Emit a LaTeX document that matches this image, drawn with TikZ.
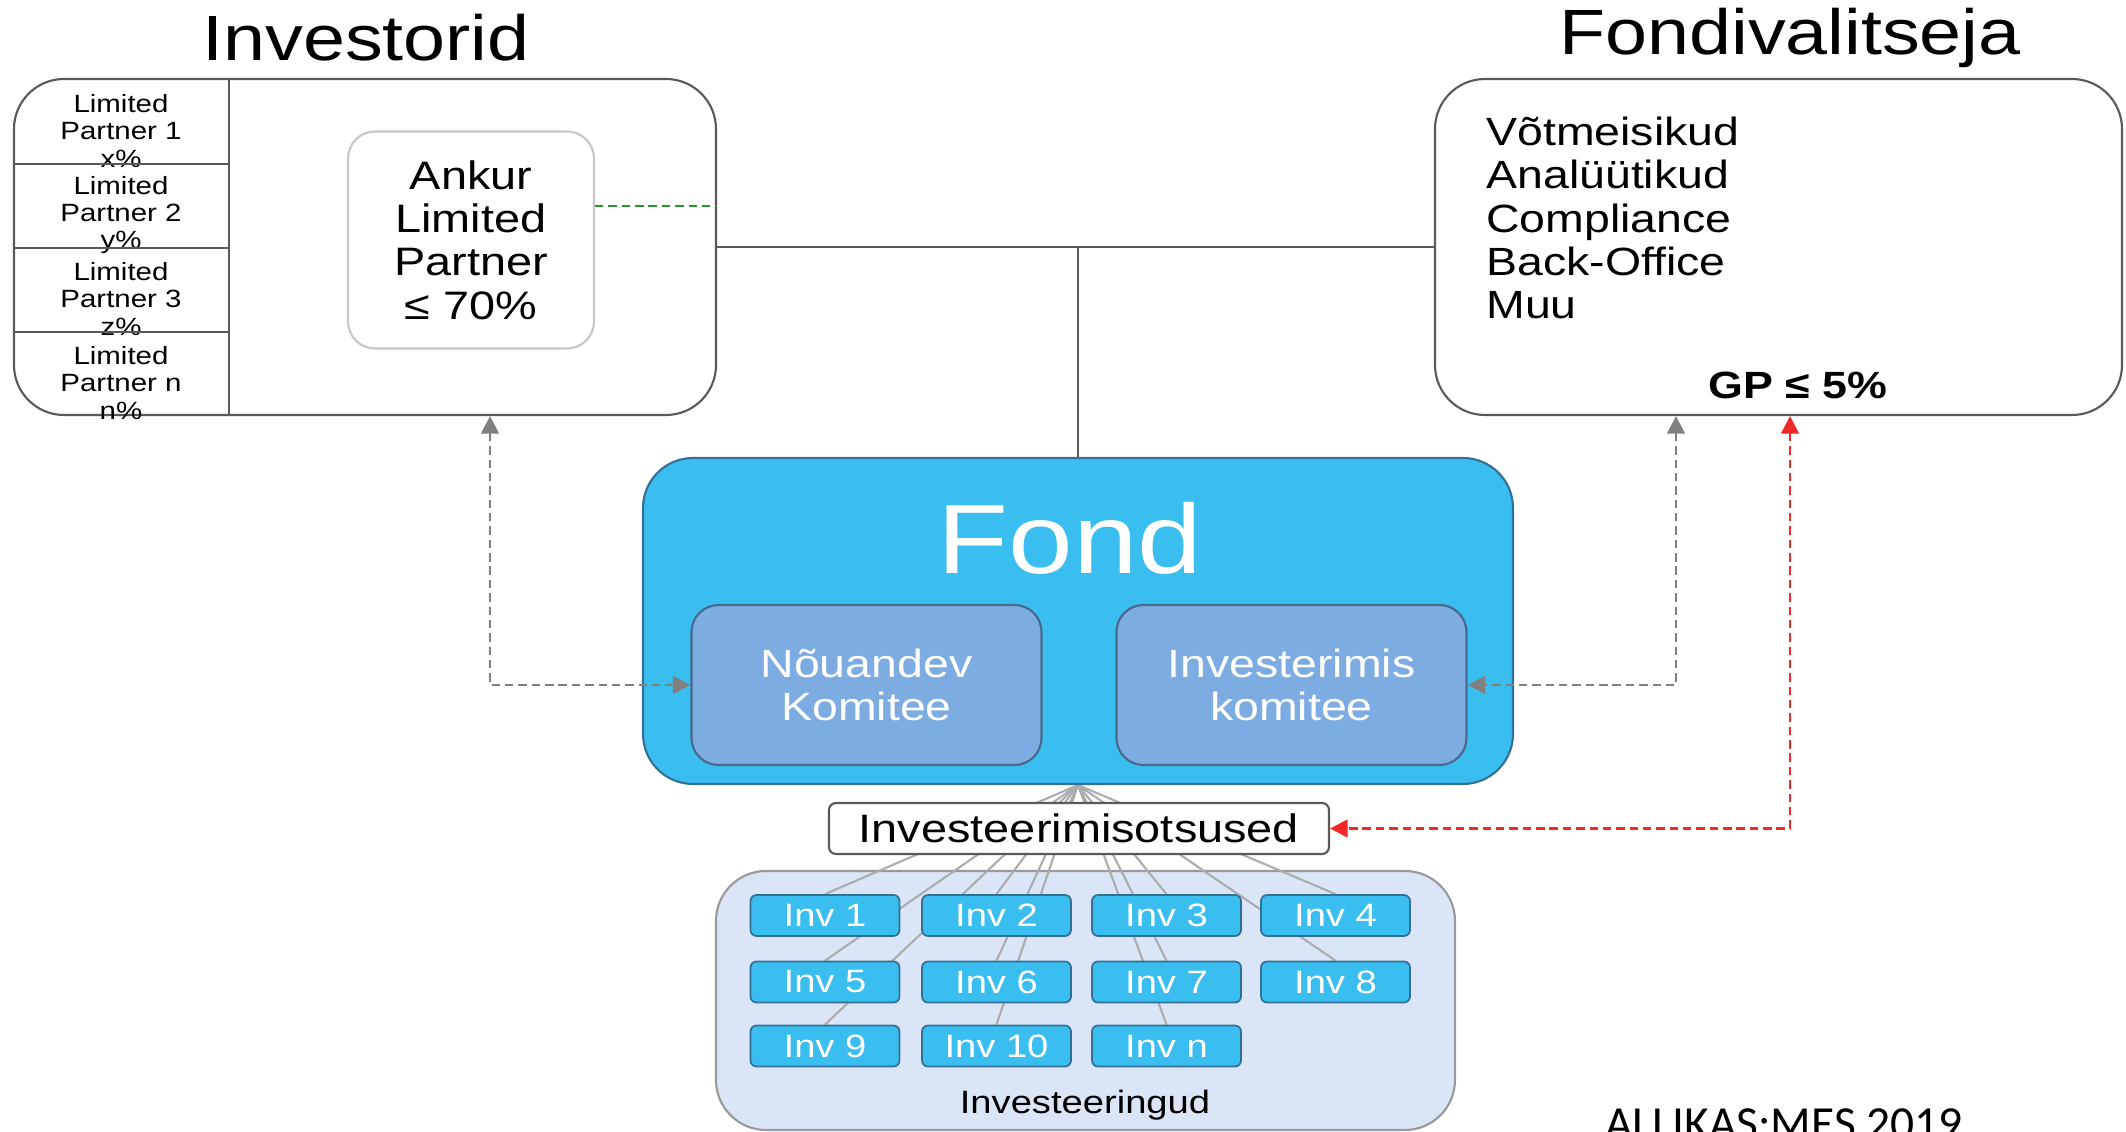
\documentclass[tikz,border=0pt]{standalone}
\usepackage{fontspec}
\setmainfont{Liberation Sans}[FakeStretch=1.18]
\newfontfamily\notefont{Carlito}
\usepackage{tikz}
\usetikzlibrary{arrows.meta,positioning,backgrounds}
\usepackage{xcolor}
\definecolor{fondblue}{RGB}{58,190,240}
\definecolor{fondline}{RGB}{52,112,150}
\definecolor{komfill}{RGB}{124,172,226}
\definecolor{komline}{RGB}{72,104,140}
\definecolor{poolfill}{RGB}{218,230,247}
\definecolor{dashgray}{RGB}{128,128,128}
\definecolor{dashred}{RGB}{240,40,40}
\definecolor{dashgreen}{RGB}{40,150,40}

\begin{document}
\begin{tikzpicture}[x=1cm, y=-1cm,
  heading/.style={font=\fontsize{18.2}{20}\selectfont},
  party/.style={draw=gray!70!black, line width=0.6pt, rounded corners=0.5cm,
                minimum width=#1, minimum height=3.36cm, inner sep=0pt},
  lpcell/.style={minimum width=2.14cm, minimum height=0.84cm, inner sep=0pt},
  lptext/.style={align=center, font=\fontsize{7.1}{7.7}\selectfont},
  anchorbox/.style={draw=gray!45, line width=0.6pt, rounded corners=0.27cm,
                    minimum width=2.46cm, minimum height=2.17cm, inner sep=0pt,
                    align=center, font=\fontsize{11.3}{12.35}\selectfont},
  fondbox/.style={draw=fondline, fill=fondblue, line width=0.6pt, rounded corners=0.5cm,
                  minimum width=8.7cm, minimum height=3.26cm, inner sep=0pt},
  kombox/.style={draw=komline, fill=komfill, line width=0.6pt, rounded corners=0.27cm,
                 minimum width=3.5cm, minimum height=1.6cm, inner sep=0pt,
                 align=center, text=white, font=\fontsize{11.2}{12}\selectfont},
  decision/.style={draw=gray!70!black, fill=white, line width=0.6pt, rounded corners=0.07cm,
                   minimum width=5cm, minimum height=0.51cm, inner sep=0pt,
                   font=\fontsize{11.3}{12}\selectfont},
  invbox/.style={draw=fondline, fill=fondblue, line width=0.5pt, rounded corners=0.06cm,
                 minimum width=1.49cm, minimum height=0.41cm, inner sep=0pt,
                 text=white, font=\fontsize{9.2}{10}\selectfont},
  pool/.style={draw=gray!80, fill=poolfill, line width=0.6pt, rounded corners=0.5cm,
               minimum width=7.39cm, minimum height=2.59cm, inner sep=0pt},
  joinline/.style={draw=gray!70!black, line width=0.6pt},
  fanline/.style={draw=gray!65, line width=0.6pt},
  dashlink/.style={dash pattern=on 2.4pt off 1.4pt, line width=0.8pt,
                   arrows={Triangle[length=5pt,width=5pt]-Triangle[length=5pt,width=5pt]}}
]
\useasboundingbox (0,0) rectangle (21.26,11.32);

%% Headings
\node[heading] (invtitle) at (3.66,0.38) {Investorid};
\node[heading] (mgrtitle) at (17.90,0.38) {Fondivalitseja};

%% Investors
\node[party=7.02cm] (investors) at (3.65,2.47) {};
\foreach \i/\t/\p/\y in {1/1/x/1.21, 2/2/y/2.05, 3/3/z/2.89, 4/n/n/3.73}{
  \node[lpcell] (lp\i) at (1.21,\y) {};
  \node[lptext] (lpt\i) at ([yshift=-1mm]lp\i.center) {Limited\\Partner \t\\\p\%};
}
\draw[joinline] (lp1.north east) -- (lp4.south east);
\foreach \i in {1,2,3}
  \draw[joinline] (lp\i.south west) -- (lp\i.south east);
\node[anchorbox] (ankur) at (4.71,2.40) {Ankur\\Limited\\Partner\\≤ 70\%};

%% Fund manager
\node[party=6.87cm] (manager) at (17.785,2.47) {};
\node[anchor=west, align=left, font=\fontsize{11.2}{12.35}\selectfont]
     (roles) at (14.74,2.18) {Võtmeisikud\\Analüütikud\\Compliance\\Back-Office\\Muu};
\node[font=\bfseries\fontsize{10.8}{12}\selectfont] (gp) at (17.98,3.85) {GP ≤ 5\%};

%% Fund
\node[fondbox] (fond) at (10.78,6.21) {};
\node[text=white, font=\fontsize{28}{30}\selectfont] (fondtitle) at (10.70,5.38) {Fond};
\node[kombox] (nouandev) at (8.665,6.85) {Nõuandev\\Komitee};
\node[kombox] (invkom) at (12.915,6.85) {Investerimis\\komitee};

%% Decisions and investments
\node[decision] (decisions) at (10.79,8.285) {Investeerimisotsused};
\foreach \n/\lab/\x/\y in {1/1/8.25/9.155, 2/2/9.965/9.155, 3/3/11.665/9.155, 4/4/13.355/9.155,
                           5/5/8.25/9.82, 6/6/9.965/9.82, 7/7/11.665/9.82, 8/8/13.355/9.82,
                           9/9/8.25/10.46, 10/10/9.965/10.46, 11/n/11.665/10.46}{
  \node[invbox] (inv\n) at (\x,\y) {Inv \lab};
}
\node[font=\fontsize{9.2}{10}\selectfont] (poollabel) at (10.85,11.05) {Investeeringud};
\node[font=\notefont\fontsize{13.5}{15}\selectfont, anchor=base] (source) at (17.84,11.40) {ALLIKAS:MES 2019};

%% Connectors
\coordinate (gline) at (6.40,2.06);
\coordinate (lpx) at (4.90,0);
\coordinate (gpx) at (16.76,0);
\coordinate (redx) at (17.90,0);
\draw[joinline] (investors.east) -- (manager.west);
\draw[joinline] (fond.north) -- (fond.north |- investors.east);
\draw[dashgreen, line width=0.8pt, dash pattern=on 2.4pt off 1.4pt]
  (ankur.east |- gline) -- (investors.east |- gline);
\draw[dashlink, dashgray] (investors.south -| lpx) |- (nouandev.west);
\draw[dashlink, dashgray] (manager.south -| gpx) |- (invkom.east);
\draw[dashlink, dashred] (manager.south -| redx) |- (decisions.east);

\begin{scope}[on background layer]
  \node[pool] (pool) at (10.855,10.005) {};
  \foreach \n in {1,...,11}
    \draw[fanline] (fond.south) -- (inv\n.north);
\end{scope}

\end{tikzpicture}
\end{document}
